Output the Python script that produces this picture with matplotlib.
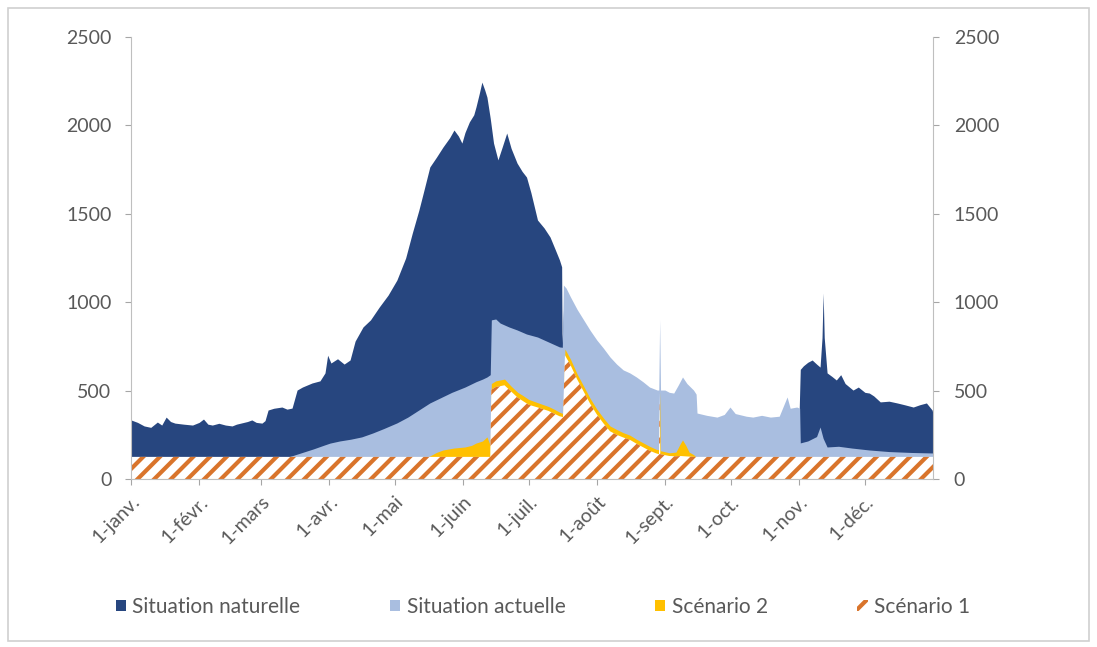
import matplotlib
matplotlib.use('Agg')
import matplotlib.pyplot as plt
from matplotlib.patches import Patch, Rectangle

plt.rcParams['font.family'] = ['Lato', 'DejaVu Sans']
plt.rcParams['hatch.linewidth'] = 3.0

# Axe des x : jour de l'année (0 = 1er janvier)
mois_jours = [0, 31, 59, 90, 120, 151, 181, 212, 243, 273, 304, 334]
mois_labels = ['1-janv.', '1-févr.', '1-mars', '1-avr.', '1-mai', '1-juin',
               '1-juil.', '1-août', '1-sept.', '1-oct.', '1-nov.', '1-déc.']

# Situation naturelle
nat_j = [0, 3, 6, 9, 12, 14, 16, 18, 20, 24, 28, 31, 33, 35, 37, 40, 43, 46, 48, 50,
         53, 55, 57, 59.6, 61, 62.4, 65, 68.7, 71, 73.3, 75.6, 78, 82.4, 86, 88.3, 89.5,
         91, 94, 97, 99.7, 102, 105.6, 109, 113, 117, 121, 125, 128, 131, 133, 136, 139,
         142, 145, 147, 149, 150.6, 152, 154, 156, 157, 158.5, 159.7, 161, 162, 163.5,
         165, 167, 169, 171, 173, 175.7, 178, 180, 182, 185, 188, 190.7, 193, 195, 196,
         196.2, 197, 220, 260, 300, 304, 304.6, 306, 308, 310, 312, 313.6, 314.5, 315,
         315.5, 316.8, 319, 321, 323, 325, 328.6, 331, 334, 336, 338, 341, 345, 348.7,
         352, 356, 359, 362, 364.6, 365]
nat_v = [334, 320, 300, 292, 322, 305, 350, 325, 316, 310, 305, 320, 339, 310, 305, 315,
         305, 300, 310, 316, 325, 334, 320, 316, 330, 390, 400, 407, 395, 401, 503, 520,
         543, 555, 600, 700, 656, 680, 650, 673, 780, 860, 900, 973, 1040, 1125, 1250,
         1390, 1520, 1617, 1765, 1820, 1878, 1930, 1974, 1940, 1900, 1960, 2020, 2060,
         2104, 2180, 2245, 2200, 2160, 2040, 1900, 1805, 1880, 1957, 1870, 1787, 1740,
         1708, 1620, 1465, 1420, 1369, 1300, 1239, 1200, 770, 1000, 560, 330, 330, 340,
         620, 640, 660, 673, 650, 633, 800, 1052, 800, 600, 580, 560, 590, 540, 503, 520,
         490, 486, 470, 436, 440, 430, 420, 407, 420, 430, 390, 370]

# Situation actuelle
act_j = [0, 70, 73, 78, 83, 88, 90.6, 95, 100, 105, 110, 115, 121, 126, 131, 136, 141,
         146, 152, 157, 160, 162, 163.5, 164, 166, 168, 172, 175.7, 180, 185, 190, 195,
         196.3, 196.8, 198, 200, 203, 206, 209, 212, 215, 218, 221, 224, 227, 230, 233,
         236, 239.5, 240.2, 240.6, 241.0, 243, 245, 247, 249, 251, 253, 256, 257.2, 257.6,
         262, 266.7, 270, 272.6, 275, 280, 283, 287, 291, 295, 298.6, 300, 303, 304.3,
         304.6, 308, 312, 313.6, 315, 316.8, 322, 328, 336, 345, 355, 365]
act_v = [120, 120, 130, 150, 170, 192, 203, 215, 225, 238, 260, 285, 317, 350, 390, 430,
         460, 490, 520, 550, 565, 577, 590, 900, 905, 882, 860, 843, 820, 803, 775, 747,
         745, 1097, 1080, 1030, 960, 900, 840, 786, 740, 690, 650, 617, 600, 577, 550,
         520, 503, 503, 900, 503, 503, 490, 486, 530, 577, 540, 503, 480, 373, 360, 350,
         365, 407, 370, 355, 350, 360, 350, 355, 464, 400, 407, 400, 204, 215, 240, 294,
         230, 181, 185, 175, 164, 155, 150, 147]

# Scénario 2
sc2_j = [0, 134, 136, 139, 142, 147, 152, 155, 157, 160, 162, 163.5, 164, 166, 170, 173,
         176, 178, 181, 185, 190, 193, 195, 196.6, 197.5, 200, 203, 206, 209, 212, 215,
         218, 221, 224, 227, 230, 233, 236, 239, 240.3, 240.6, 240.9, 242, 245, 248, 250,
         251, 252.5, 254, 256, 257.6, 365]
sc2_v = [120, 120, 130, 150, 164, 175, 181, 190, 203, 215, 238, 190, 540, 555, 565, 525,
         490, 475, 450, 432, 410, 392, 378, 370, 735, 678, 595, 525, 455, 395, 345, 300,
         280, 262, 248, 225, 205, 185, 168, 165, 495, 160, 157, 148, 152, 200, 221, 190,
         152, 138, 120, 120]

# Scénario 1
sc1_j = [0, 163.5, 164, 166, 170, 173, 176, 181, 185, 190, 195, 196.6, 197.5, 200, 203,
         206, 209, 212, 215, 218, 221, 224, 227, 230, 233, 236, 239, 240.3, 240.6, 240.9,
         245, 248, 250, 256, 365]
sc1_v = [125, 125, 505, 520, 530, 495, 460, 420, 405, 385, 355, 350, 700, 645, 565, 495,
         425, 365, 315, 270, 250, 235, 222, 200, 180, 160, 145, 140, 490, 140, 130, 128,
         130, 125, 125]

bleu_fonce = '#27467F'
bleu_clair = '#A9BEE0'
jaune = '#FFC000'
orange = '#D9742B'
gris = '#595959'

fig = plt.figure(figsize=(10.97, 6.47), dpi=100)
fig.patches.append(Rectangle((0.007, 0.01), 0.986, 0.978, transform=fig.transFigure,
                             fill=False, edgecolor='#D0D0D0', linewidth=1.2))
ax = fig.add_axes([0.1194, 0.2597, 0.7311, 0.6831])

ax.fill_between(nat_j, 0, nat_v, color=bleu_fonce, linewidth=0)
ax.fill_between(act_j, 0, act_v, color=bleu_clair, linewidth=0)
ax.fill_between(sc2_j, 0, sc2_v, color=jaune, linewidth=0)
ax.fill_between(sc1_j, 0, sc1_v, facecolor='white', edgecolor=orange, hatch='//',
                linewidth=0)

ax.set_xlim(0, 365)
ax.set_ylim(0, 2500)
ax.set_yticks(range(0, 2501, 500))
ax.set_xticks(mois_jours)
ax.set_xticklabels(mois_labels, rotation=45, ha='right', rotation_mode='anchor')

ax2 = ax.twinx()
ax2.set_ylim(0, 2500)
ax2.set_yticks(range(0, 2501, 500))

for a in (ax, ax2):
    for s in a.spines.values():
        s.set_visible(False)
    a.tick_params(colors='#A6A6A6', labelcolor=gris, labelsize=14, length=4)
ax.spines['left'].set_visible(True)
ax.spines['bottom'].set_visible(True)
ax2.spines['right'].set_visible(True)
ax.spines['left'].set_color('#BFBFBF')
ax.spines['bottom'].set_color('#BFBFBF')
ax2.spines['right'].set_color('#BFBFBF')
ax.tick_params(axis='y', pad=10)
ax2.tick_params(axis='y', pad=11)
ax.tick_params(axis='x', pad=6)

handles = [Patch(facecolor=bleu_fonce), Patch(facecolor=bleu_clair),
           Patch(facecolor=jaune),
           Patch(facecolor='white', edgecolor=orange, hatch='//', linewidth=0)]
labels = ['Situation naturelle', 'Situation actuelle', 'Scénario 2', 'Scénario 1']
fig.legend(handles, labels, loc='center', bbox_to_anchor=(0.495, 0.062), ncol=4,
           frameon=False, fontsize=15, handlelength=0.5, handleheight=0.5,
           handletextpad=0.3, columnspacing=4.3, labelcolor=gris)

fig.savefig('out.png', dpi=100)
